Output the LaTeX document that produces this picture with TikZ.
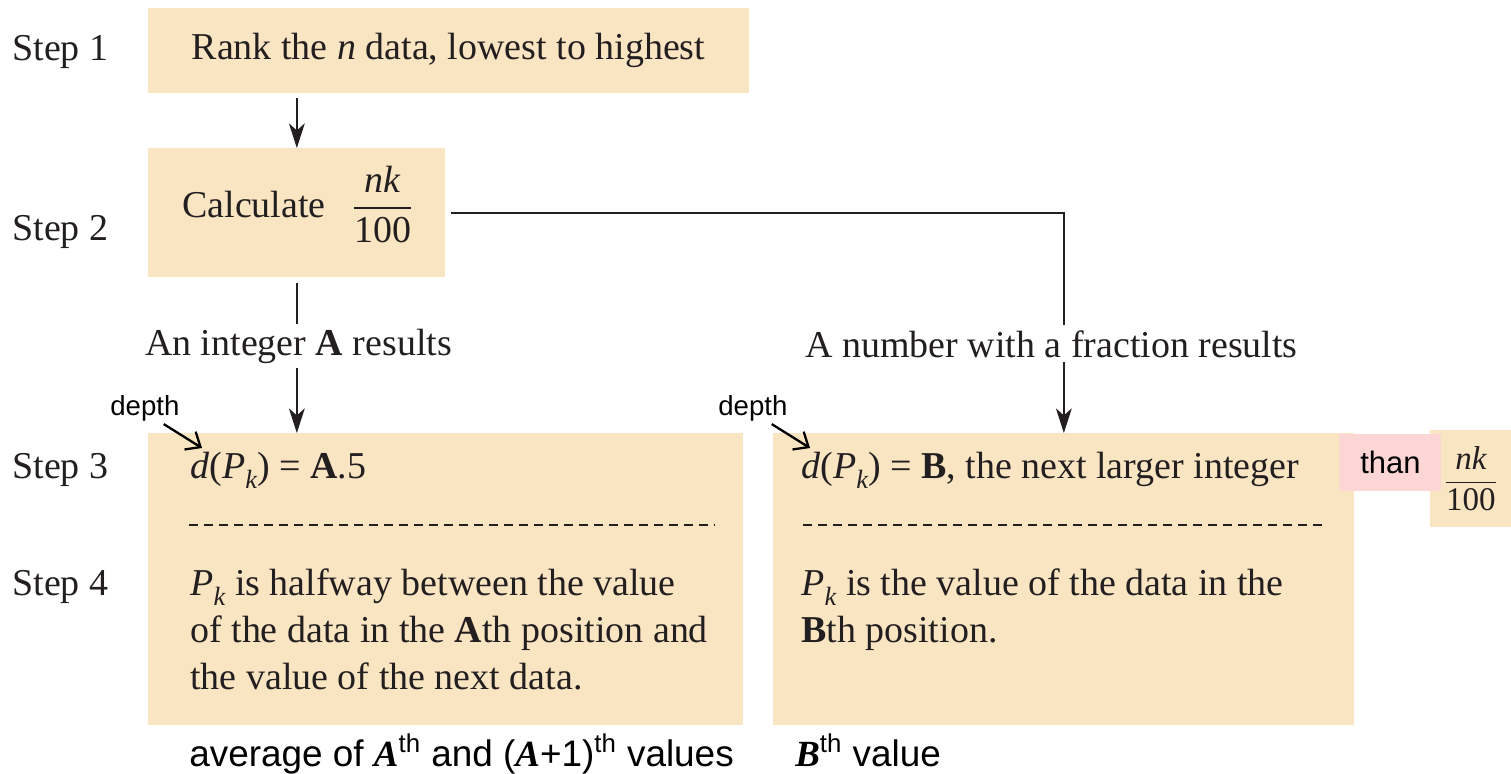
\documentclass[tikz,border=0pt]{standalone}
\usepackage{fontspec}
\usepackage{amsmath}
\setmainfont{Liberation Serif}
\setsansfont{Liberation Sans}
\usetikzlibrary{positioning, arrows.meta, calc}
\definecolor{boxtan}{HTML}{FAE5C3}
\definecolor{notepink}{HTML}{FCD5D5}
\definecolor{inkgray}{HTML}{231F20}

\newcommand{\stepfont}{\fontsize{21.6}{26.7}\selectfont}
\newcommand{\notefont}{\sffamily\fontsize{15.7}{18}\selectfont}
\newcommand{\tagfont}{\sffamily\fontsize{21}{25}\selectfont}
\newcommand{\fracnk}{\ensuremath{\dfrac{\text{\itshape nk}}{\text{100}}}}
\newcommand{\boldvar}[1]{{\rmfamily\bfseries\itshape #1}}
\newcommand{\subk}{\raisebox{-0.28em}{\fontsize{15}{15}\selectfont\textit{k}}}
\newcommand{\dPk}{\textit{d}(\textit{P}\subk) = }

\tikzset{
    stepbox/.style={fill=boxtan, inner sep=0, anchor=north west},
    steplabel/.style={anchor=base west, inner sep=0, font=\stepfont, text=inkgray},
    flow/.style={draw=inkgray, line width=1.1pt, -{Stealth[length=14pt, width=9pt, inset=4pt]}},
    pointer/.style={draw=black, line width=1.3pt, -{Straight Barb[length=7pt, width=12pt]}},
    splitline/.style={draw=inkgray, line width=1.2pt, dash pattern=on 0.18cm off 0.12cm}
}

\begin{document}
\begin{tikzpicture}
    \fill[white] (0,0) rectangle (30.22,-15.46);
    \useasboundingbox (0,0) rectangle (30.22,-15.46);

    % boxes
    \node[stepbox, minimum width=12.02cm, minimum height=1.70cm] (rankbox) at (2.96,-0.16) {};
    \node[stepbox, minimum width=5.94cm, minimum height=2.58cm] (calcbox) at (2.96,-2.96) {};
    \node[stepbox, minimum width=11.90cm, minimum height=5.84cm] (intbox) at (2.96,-8.66) {};
    \node[stepbox, minimum width=11.62cm, minimum height=5.84cm] (fracbox) at (15.46,-8.66) {};
    \node[stepbox, minimum width=1.62cm, minimum height=1.94cm, font=\fontsize{18.8}{21}\selectfont, text=inkgray] (sidefrac) at (28.60,-8.60) {\fracnk};
    \node[stepbox, fill=notepink, minimum width=2.04cm, minimum height=1.14cm, font=\sffamily\fontsize{17.6}{20}\selectfont] (than) at (26.78,-8.68) {than};

    % step names
    \node[steplabel] (step1) at (0.24,-1.20) {Step 1};
    \node[steplabel] (step2) at (0.24,-4.80) {Step 2};
    \node[steplabel] (step3) at (0.24,-9.56) {Step 3};
    \node[steplabel] (step4) at (0.24,-11.90) {Step 4};

    % box texts (base of a multi-line node = its last line)
    \node[steplabel, anchor=base] (ranktext) at (8.97,-1.19) {Rank the \textit{n} data, lowest to highest};
    \node[steplabel] (calctext) at (3.64,-4.34) {Calculate\hspace{0.7em}\fracnk};
    \node[steplabel] (intdepth) at (3.80,-9.56) {\dPk\textbf{A}.5};
    \node[steplabel, align=left] (intvalue) at (3.80,-13.78) {\textit{P}\subk{} is halfway between the value\\of the data in the \textbf{A}th position and\\the value of the next data.};
    \node[steplabel] (fracdepth) at (16.02,-9.56) {\dPk\textbf{B}, the next larger integer};
    \node[steplabel, align=left] (fracvalue) at (16.02,-12.84) {\textit{P}\subk{} is the value of the data in the\\\textbf{B}th position.};

    \draw[splitline] (3.78,-10.50) -- (14.28,-10.50);
    \draw[splitline] (16.06,-10.50) -- (26.54,-10.50);

    % flow
    \draw[flow, shorten <=0.08cm] (calcbox.north |- rankbox.south) -- (calcbox.north);
    \draw[flow, shorten <=0.1cm] (calcbox.south) -- (calcbox.south |- intbox.north);
    \draw[flow, shorten <=0.1cm] (calcbox.east) -| (fracbox.north);
    \node[steplabel, anchor=base, fill=white, inner sep=0.1cm] (intcase) at (5.97,-7.10) {An integer \textbf{A} results};
    \node[steplabel, anchor=base, fill=white, inner sep=0.1cm] (fraccase) at (21.03,-7.14) {A number with a fraction results};

    % depth notes
    \node[anchor=base west, inner sep=0, font=\notefont] (depthA) at (2.20,-8.30) {depth};
    \node[anchor=base west, inner sep=0, font=\notefont] (depthB) at (14.36,-8.30) {depth};
    \coordinate (tipA) at (4.04,-8.96);
    \coordinate (tipB) at (16.20,-8.96);
    \draw[pointer] ([xshift=-0.32cm, yshift=-0.06cm]depthA.south east) -- (tipA);
    \draw[pointer] ([xshift=-0.32cm, yshift=-0.06cm]depthB.south east) -- (tipB);

    % bottom notes
    \node[anchor=base west, inner sep=0, font=\tagfont] (avgnote) at (3.78,-15.32) {average of \boldvar{A}\textsuperscript{th} and (\boldvar{A}+1)\textsuperscript{th} values};
    \node[anchor=base west, inner sep=0, font=\tagfont] (bnote) at (15.90,-15.32) {\boldvar{B}\textsuperscript{th} value};
\end{tikzpicture}
\end{document}
